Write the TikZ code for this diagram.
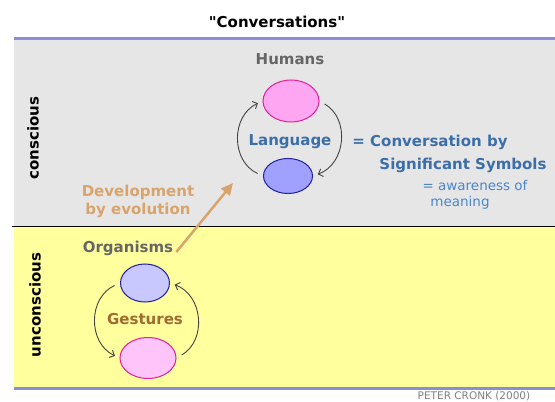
\documentclass[tikz,border=0pt]{standalone}
\usepackage{fontspec}
\setmainfont{DejaVu Sans}
\usetikzlibrary{shapes.geometric,arrows.meta}

\definecolor{bandblue}{HTML}{8C8CDC}
\definecolor{upperbg}{HTML}{E6E6E6}
\definecolor{lowerbg}{HTML}{FFFF9E}
\definecolor{pinkfill}{HTML}{FFA6F2}
\definecolor{pinkline}{HTML}{E0209A}
\definecolor{bluefill}{HTML}{A0A0FF}
\definecolor{blueline}{HTML}{2020A0}
\definecolor{lightpink}{HTML}{FFC4FA}
\definecolor{lightblue}{HTML}{C8C8FF}
\definecolor{langblue}{HTML}{3C6EA8}
\definecolor{meanblue}{HTML}{4A86C8}
\definecolor{evotan}{HTML}{D8A46C}
\definecolor{gestbrown}{HTML}{A06A30}
\definecolor{kindgray}{HTML}{666666}
\definecolor{arcgray}{HTML}{444444}

\newcommand\boldtext{\fontsize{15}{18}\selectfont\bfseries}
\newcommand\plaintext{\fontsize{13.5}{18}\selectfont}
% straight double quote, kept clear of the TeX ligature mapping
\newcommand\dq{\XeTeXglyph\XeTeXcharglyph"22\relax}

\tikzset{
  cell/.style={ellipse, draw, line width=1pt, inner sep=0pt},
  tag/.style={font=\boldtext, inner sep=1pt},
  roundarrow/.style={arcgray, line width=0.9pt, -{Straight Barb[length=4pt,width=8pt]},
    looseness=1.2, shorten <=6pt, shorten >=5pt},
  evo/.style={evotan, line width=2.5pt, -{Triangle[length=12pt,width=11pt]}}
}

\begin{document}
\begin{tikzpicture}[x=1pt,y=1pt]
  \useasboundingbox (0,0) rectangle (555,402);

  % Background bands
  \fill[upperbg] (14,175) rectangle (555,363);
  \fill[lowerbg] (14,14) rectangle (555,175);
  \draw[bandblue, line width=3pt] (14,363) -- (555,363);
  \draw[bandblue, line width=3pt] (14,13.5) -- (555,13.5);
  \draw[black, line width=1pt] (12,175) -- (555,175);

  % Title
  \node[tag] (title) at (277,380) {\dq Conversations\dq};

  % Side labels
  \node[tag, rotate=90] (conscious) at (33,264) {conscious};
  \node[tag, rotate=90] (unconscious) at (35,97) {unconscious};

  % Humans: language loop
  \node[tag, text=kindgray] (humans) at (290,343) {Humans};
  \node[cell, draw=pinkline, fill=pinkfill, minimum width=56pt, minimum height=42pt] (humanA) at (291,301) {};
  \node[cell, draw=blueline, fill=bluefill, minimum width=49pt, minimum height=35pt] (humanB) at (288,226) {};
  \node[tag, text=langblue] (language) at (290,260) {Language};
  \draw[roundarrow] (humanB.west) to[bend left=65] (humanA.west);
  \draw[roundarrow] (humanA.east) to[bend left=65] (humanB.east);

  % Meaning of language
  \node[tag, text=langblue] (convA) at (430,260) {= Conversation by};
  \node[tag, text=langblue] (convB) at (463,237) {Significant Symbols};
  \node[font=\plaintext, text=meanblue, inner sep=1pt] (awareA) at (475,217) {= awareness of};
  \node[font=\plaintext, text=meanblue, inner sep=1pt] (awareB) at (460,199) {meaning};

  % Organisms: gesture loop
  \node[tag, text=kindgray] (organisms) at (128,154) {Organisms};
  \node[cell, draw=blueline, fill=lightblue, minimum width=49pt, minimum height=38pt] (organismA) at (145,119) {};
  \node[cell, draw=pinkline, fill=lightpink, minimum width=56pt, minimum height=41pt] (organismB) at (148,44) {};
  \node[tag, text=gestbrown] (gestures) at (145,83) {Gestures};
  \draw[roundarrow] (organismA.west) to[bend right=65] (organismB.west);
  \draw[roundarrow] (organismB.east) to[bend right=65] (organismA.east);

  % Evolution arrow
  \node[tag, text=evotan, align=center] (evolution) at (138,201) {Development\\by evolution};
  \coordinate (evotip) at (233,219);
  \draw[evo] ([xshift=2pt,yshift=-4pt]organisms.east) -- (evotip);

  % Credit line
  \node[font=\fontsize{10.5}{12}\selectfont, text=gray, anchor=base, inner sep=0pt] (credit) at (474,2.5) {PETER CRONK (2000)};
\end{tikzpicture}
\end{document}
